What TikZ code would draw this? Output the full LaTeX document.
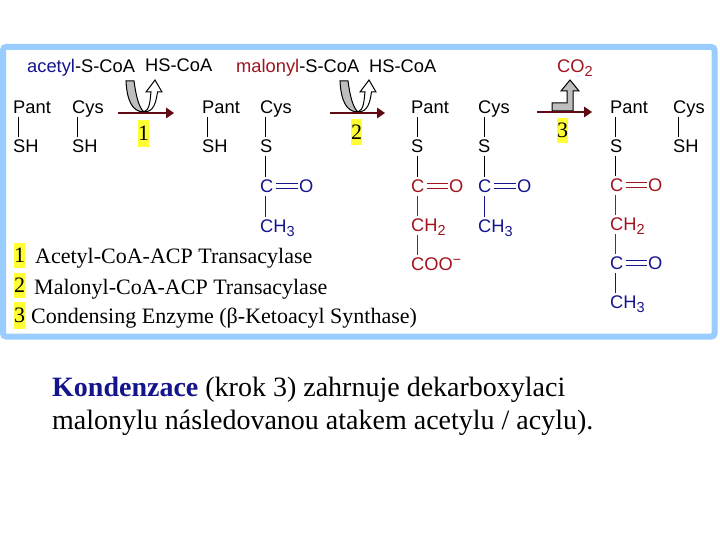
\documentclass[tikz,border=0pt]{standalone}
\usepackage{fontspec}
\setmainfont{Liberation Serif}
\newfontfamily\chemfont{Liberation Sans}
\usetikzlibrary{calc}
\definecolor{frameblue}{HTML}{99CCFF}
\definecolor{navy}{HTML}{14148C}
\definecolor{chemred}{HTML}{A0141E}
\definecolor{arrowred}{HTML}{5F0A14}
\definecolor{hiyellow}{HTML}{FFFF33}
\definecolor{swoosh}{HTML}{BEBEBE}
\tikzset{
  chem/.style={anchor=south west,inner sep=0pt,text height=13pt,text depth=0pt,font=\chemfont\fontsize{18.3}{20}\selectfont},
  blk/.style={chem,text=black},
  blu/.style={chem,text=navy},
  rd/.style={chem,text=chemred},
  hl/.style={fill=hiyellow,draw=none,inner sep=0pt,minimum width=11pt,font=\fontsize{22}{24}\selectfont},
  legend/.style={anchor=base west,inner sep=0pt,font=\fontsize{22}{24}\selectfont},
  body/.style={anchor=base west,inner sep=0pt,font=\fontsize{28}{30}\selectfont},
  react/.style={draw=arrowred,line width=2pt},
  rhead/.style={fill=arrowred,draw=none},
  gswoosh/.style={fill=swoosh,draw=black,line width=1pt},
  wswoosh/.style={fill=white,draw=black,line width=1pt,line join=miter},
}
\newcommand{\bondv}[4][black]{\draw[#1,line width=0.9pt] ($(#2.south west)+(#4pt,-3pt)$) -- ($(#3.north west)+(#4pt,3pt)$);}
\newcommand{\bondd}[3][black]{\draw[#1,line width=0.9pt] ($(#2.east)+(2pt,-2.5pt)$) -- ($(#3.west)+(-1.5pt,-2.5pt)$) ($(#2.east)+(2pt,2.5pt)$) -- ($(#3.west)+(-1.5pt,2.5pt)$);}
\newcommand{\sbt}[1]{\raisebox{-4pt}{\fontsize{14.5}{16}\selectfont #1}}
\begin{document}
\begin{tikzpicture}[x=1pt,y=-1pt]
\useasboundingbox (0,0) rectangle (720,540);
\fill[white] (0,0) rectangle (720,540);
\draw[frameblue,line width=6pt,rounded corners=3pt] (3,47) rectangle (714.5,336.5);

% header
\node[blu] (acetyl) at (27,73) {acetyl\textcolor{black}{-S-CoA}};
\node[blk] (hs1) at (145,72) {HS-CoA};
\node[rd] (malonyl) at (236,73) {malonyl\textcolor{black}{-S-CoA}};
\node[blk] (hs2) at (369,73) {HS-CoA};
\node[rd] (co2) at (557,73) {CO\sbt{2}};

% column 1
\node[blk] (p1) at (13,114) {Pant};
\node[blk] (s1) at (13,153) {SH};
\bondv{p1}{s1}{5}
\node[blk] (c1) at (72,114) {Cys};
\node[blk] (cs1) at (72,153) {SH};
\bondv{c1}{cs1}{5}

% column 2
\node[blk] (p2) at (202,114) {Pant};
\node[blk] (s2) at (202,153) {SH};
\draw[line width=1.5pt] ($(p2.south west)+(5.5pt,-3pt)$) -- ($(s2.north west)+(5.5pt,3pt)$);
\node[blk] (c2) at (260,114) {Cys};
\node[blk] (cs2) at (260,153) {S};
\bondv{c2}{cs2}{5.5}
\node[blu] (cc2) at (260,193) {C};
\node[blu] (co2a) at (299,193) {O};
\node[blu] (ch2) at (260,233) {CH\sbt{3}};
\bondv{cs2}{cc2}{5.5}
\bondd[navy]{cc2}{co2a}
\bondv[navy]{cc2}{ch2}{5.5}

% column 3
\node[blk] (p3) at (411,114) {Pant};
\node[blk] (s3) at (411,153) {S};
\node[rd] (pc3) at (411,193) {C};
\node[rd] (po3) at (449,193) {O};
\node[rd] (pch3) at (411,232) {CH\sbt{2}};
\node[rd] (coo3) at (411,271) {COO\raisebox{6pt}{\fontsize{14}{16}\selectfont −}};
\bondv{p3}{s3}{6}
\bondv{s3}{pc3}{6}
\bondd[chemred]{pc3}{po3}
\bondv[chemred]{pc3}{pch3}{6}
\bondv[chemred]{pch3}{coo3}{6}
\node[blk] (c3) at (478,114) {Cys};
\node[blk] (cs3) at (478,153) {S};
\node[blu] (cc3) at (478,193) {C};
\node[blu] (co3) at (517,193) {O};
\node[blu] (cch3) at (478,233) {CH\sbt{3}};
\bondv{c3}{cs3}{6}
\bondv{cs3}{cc3}{6}
\bondd[navy]{cc3}{co3}
\bondv[navy]{cc3}{cch3}{6}

% column 4
\node[blk] (p4) at (610,114) {Pant};
\node[blk] (s4) at (610,153) {S};
\node[rd] (pc4) at (610,192) {C};
\node[rd] (po4) at (648,192) {O};
\node[rd] (pch4) at (610,231) {CH\sbt{2}};
\node[blu] (kc4) at (610,270) {C};
\node[blu] (ko4) at (648,270) {O};
\node[blu] (kch4) at (610,309) {CH\sbt{3}};
\bondv{p4}{s4}{5.5}
\bondv{s4}{pc4}{5.5}
\bondd[chemred]{pc4}{po4}
\bondv[chemred]{pc4}{pch4}{5.5}
\bondv[chemred]{pch4}{kc4}{5.5}
\bondd[navy]{kc4}{ko4}
\bondv[navy]{kc4}{kch4}{5.5}
\node[blk] (c4) at (673,114) {Cys};
\node[blk] (cs4) at (673,153) {SH};
\bondv{c4}{cs4}{5.5}

% reaction arrows
\coordinate (a1s) at (118,113); \coordinate (a1e) at (174,113);
\coordinate (a2s) at (330,113); \coordinate (a2e) at (385,113);
\coordinate (a3s) at (537,112); \coordinate (a3e) at (592,112);
\foreach \sh in {0,214}{
  \begin{scope}[xshift=\sh pt]
    \draw[gswoosh] (126,81) .. controls (127,100) and (132,112) .. (144,112)
      .. controls (139,108) and (136,96) .. (134,81) -- cycle;
    \draw[wswoosh] (144,112) .. controls (150,110) and (150,100) .. (151,92)
      -- (146,92) -- (155,80) -- (162,92) -- (157.5,92)
      .. controls (156,102) and (154,112) .. (144,112) -- cycle;
  \end{scope}
}
\draw[gswoosh] (552,111) -- (552,103) -- (567,103) -- (567,91) -- (561,91) -- (570,80) -- (579,91) -- (573,91) -- (573,111) -- cycle;
\foreach \st/\en in {a1s/a1e,a2s/a2e,a3s/a3e}{
  \draw[react] (\st) -- ($(\en)+(-6pt,0)$);
  \fill[rhead] (\en) -- ($(\en)+(-8pt,-5.5pt)$) -- ($(\en)+(-8pt,5.5pt)$) -- cycle;
}

% step labels
\node[hl,minimum height=27pt] (n1) at (143.5,133.5) {1};
\node[hl,minimum height=26pt] (n2) at (356.5,132) {2};
\node[hl,minimum height=25pt] (n3) at (562.5,130.5) {3};

% legend
\node[hl,minimum height=25pt] (l1) at (19.5,255.5) {1};
\node[hl,minimum height=25pt] (l2) at (19.5,285.5) {2};
\node[hl,minimum height=27pt] (l3) at (19.5,315.5) {3};
\node[legend] (t1) at (35,263) {Acetyl-CoA-ACP Transacylase};
\node[legend] (t2) at (34,294) {Malonyl-CoA-ACP Transacylase};
\node[legend] (t3) at (31,323) {Condensing Enzyme (β-Ketoacyl Synthase)};

% caption
\node[body] (b1) at (52,396) {\textbf{\textcolor{navy}{Kondenzace}} (krok 3) zahrnuje dekarboxylaci};
\node[body] (b2) at (52,429) {malonylu následovanou atakem acetylu / acylu).};
\end{tikzpicture}
\end{document}
